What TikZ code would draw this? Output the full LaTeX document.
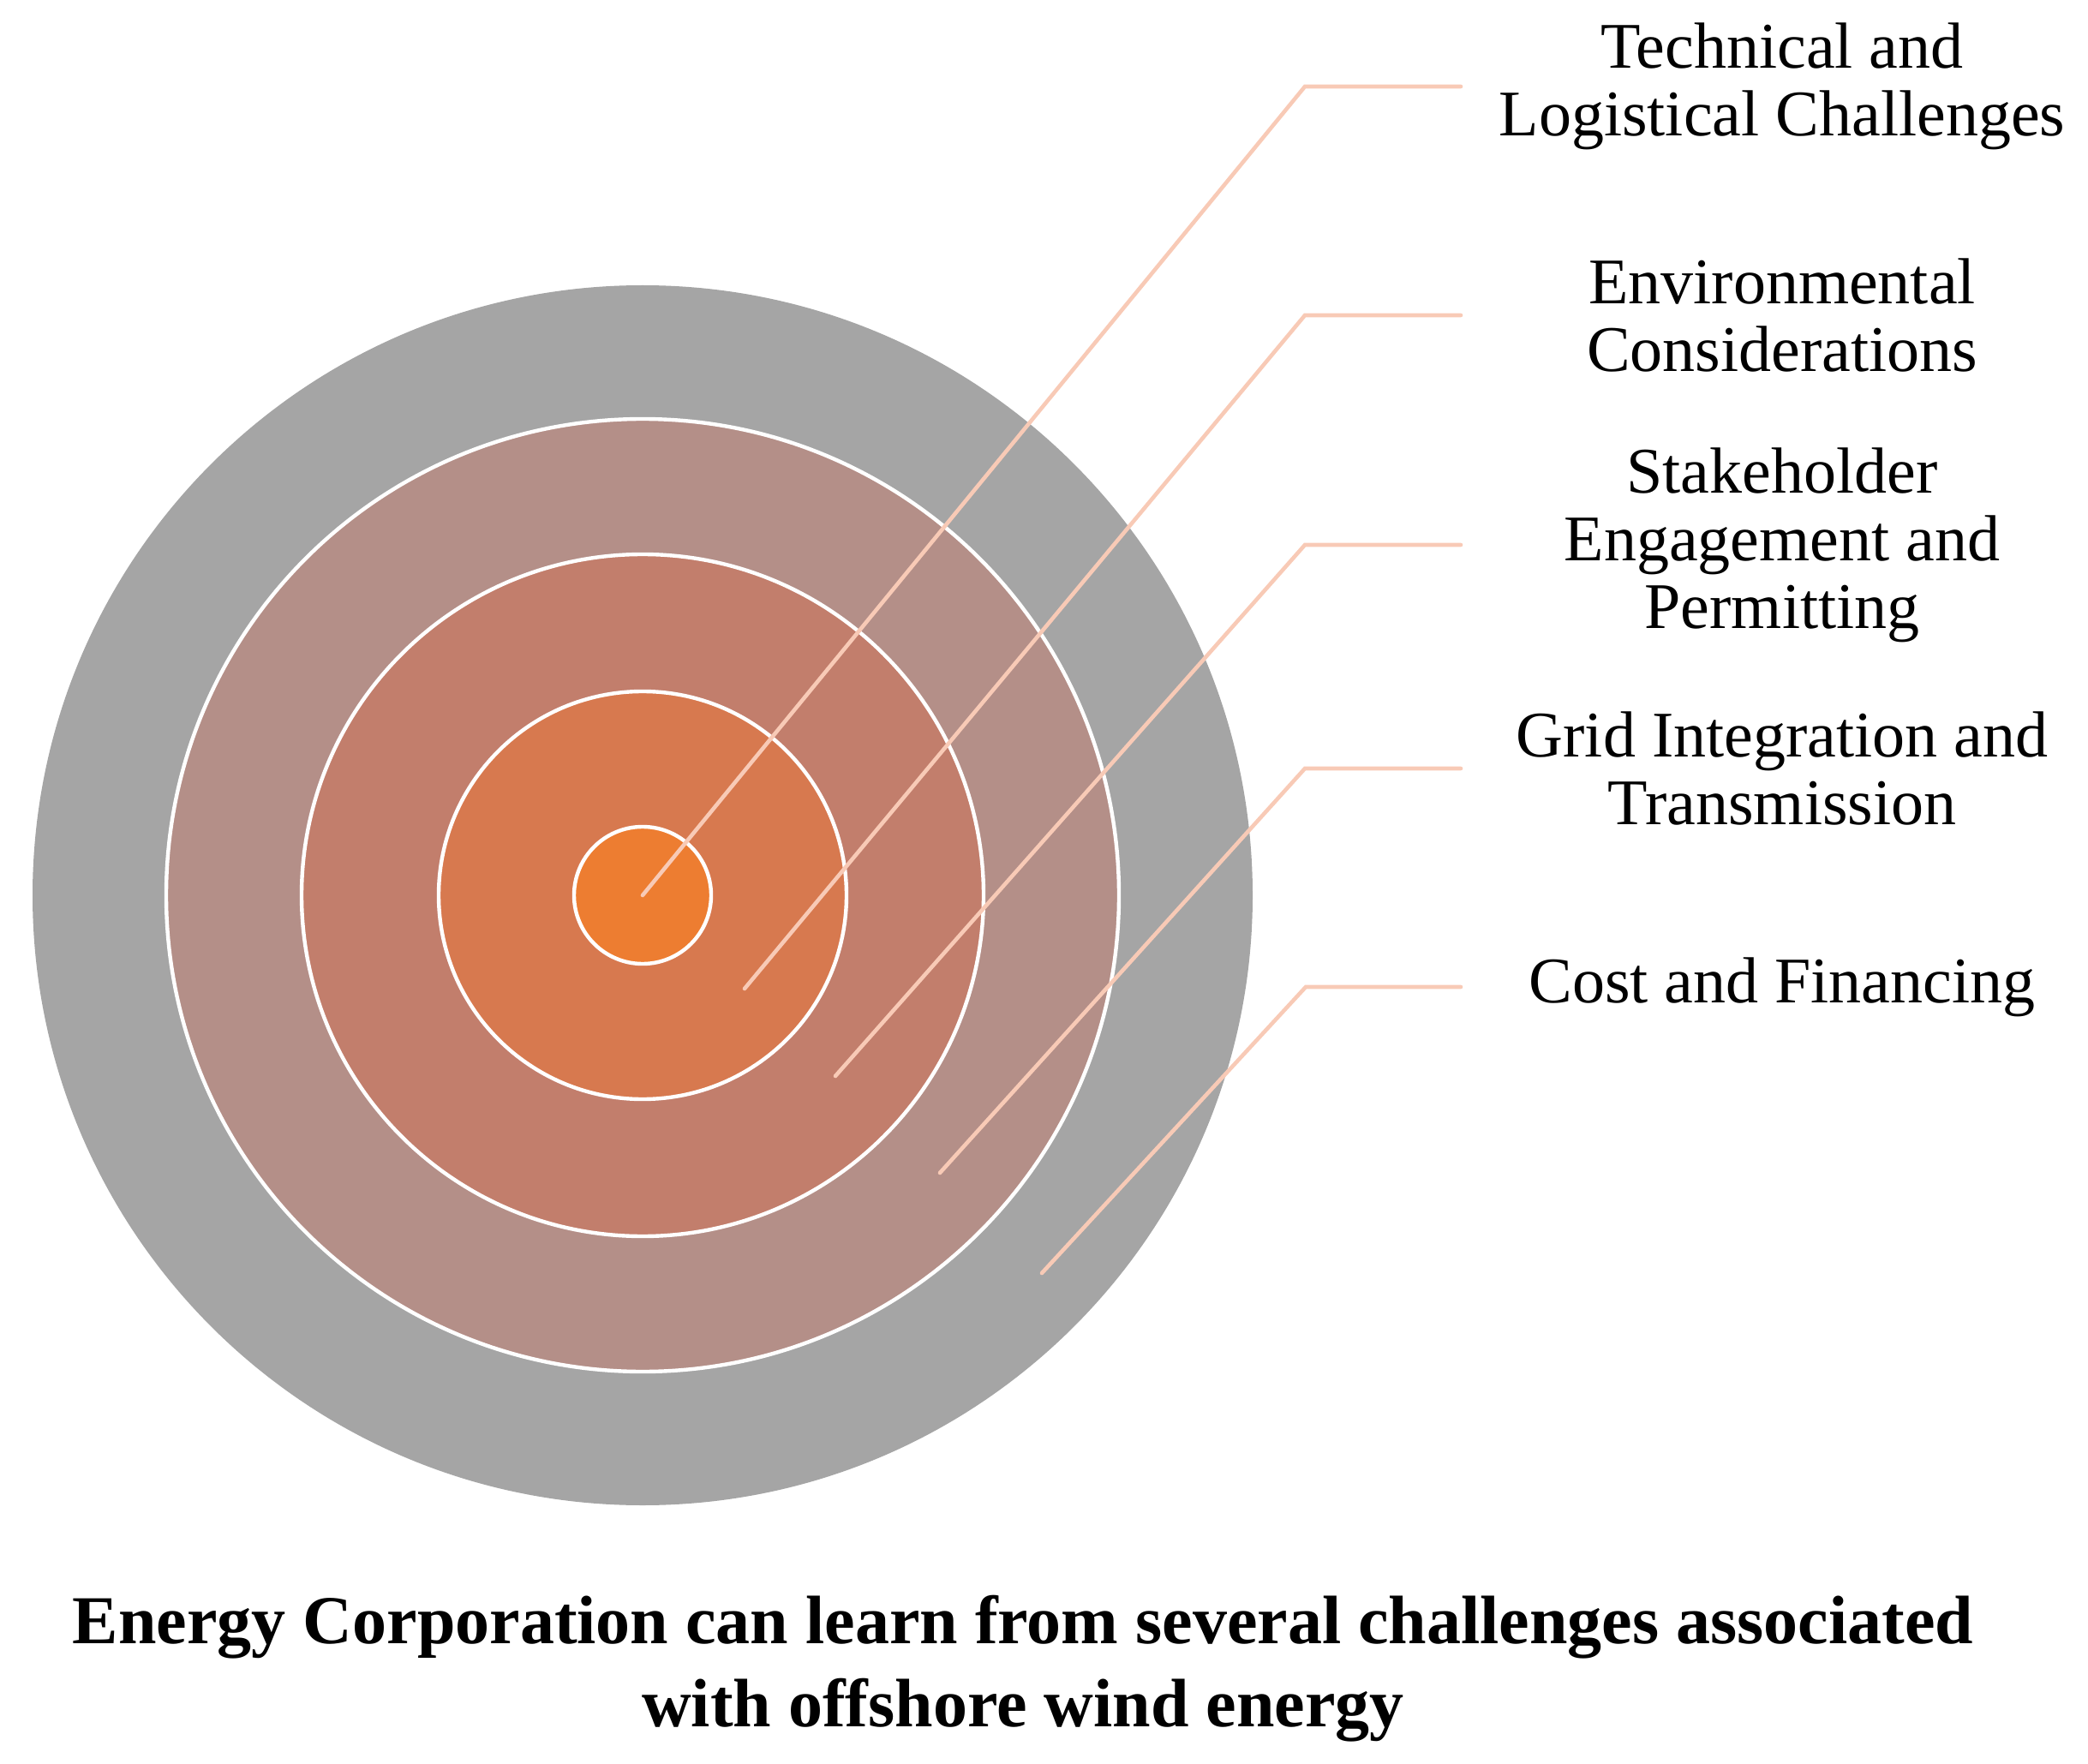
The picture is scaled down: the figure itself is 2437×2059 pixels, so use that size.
\documentclass[tikz,border=0pt]{standalone}
\usepackage{fontspec}
\setmainfont{Liberation Serif}
\definecolor{ringA}{HTML}{A5A5A5}
\definecolor{ringB}{HTML}{B48F88}
\definecolor{ringC}{HTML}{C27E6C}
\definecolor{ringD}{HTML}{D7794F}
\definecolor{ringE}{HTML}{ED7D31}
\definecolor{leader}{HTML}{F8CAB6}
\tikzset{
  ring/.style={draw=white, line width=2.2pt},
  leadline/.style={draw=leader, line width=2.3pt, line cap=round},
  lbl/.style={align=center, inner sep=0pt, font=\fontsize{38}{39.5}\selectfont},
  ttl/.style={align=center, inner sep=0pt, font=\fontsize{40}{48.5}\selectfont\bfseries}
}
\begin{document}
\begin{tikzpicture}[x=0.5pt,y=-0.5pt]
\useasboundingbox (0,0) rectangle (2437,2059);
\coordinate (c) at (750,1045);
\fill[ringA] (c) circle[radius=712];
\filldraw[ring, fill=ringB] (c) circle[radius=556];
\filldraw[ring, fill=ringC] (c) circle[radius=398];
\filldraw[ring, fill=ringD] (c) circle[radius=238];
\filldraw[ring, fill=ringE] (c) circle[radius=80];

\coordinate (s1) at (750,1045);  \coordinate (e1) at (1523,101);  \coordinate (t1) at (1705,101);
\coordinate (s2) at (869,1154);  \coordinate (e2) at (1523,368);  \coordinate (t2) at (1705,368);
\coordinate (s3) at (975,1256);  \coordinate (e3) at (1523,636);  \coordinate (t3) at (1705,636);
\coordinate (s4) at (1097,1369); \coordinate (e4) at (1523,897);  \coordinate (t4) at (1705,897);
\coordinate (s5) at (1216,1486); \coordinate (e5) at (1524,1152); \coordinate (t5) at (1705,1152);

\draw[leadline] (s1) -- (e1) -- (t1);
\draw[leadline] (s2) -- (e2) -- (t2);
\draw[leadline] (s3) -- (e3) -- (t3);
\draw[leadline] (s4) -- (e4) -- (t4);
\draw[leadline] (s5) -- (e5) -- (t5);

\node[lbl] (l1) at (2080,101) {Technical and\\Logistical Challenges};
\node[lbl] (l2) at (2080,368) {Environmental\\Considerations};
\node[lbl] (l3) at (2080,636) {Stakeholder\\Engagement and\\Permitting};
\node[lbl] (l4) at (2080,897) {Grid Integration and\\Transmission};
\node[lbl] (l5) at (2080,1152) {Cost and Financing};

\node[ttl] (title) at (1194,1948) {Energy Corporation can learn from several challenges associated\\with offshore wind energy};
\end{tikzpicture}
\end{document}
